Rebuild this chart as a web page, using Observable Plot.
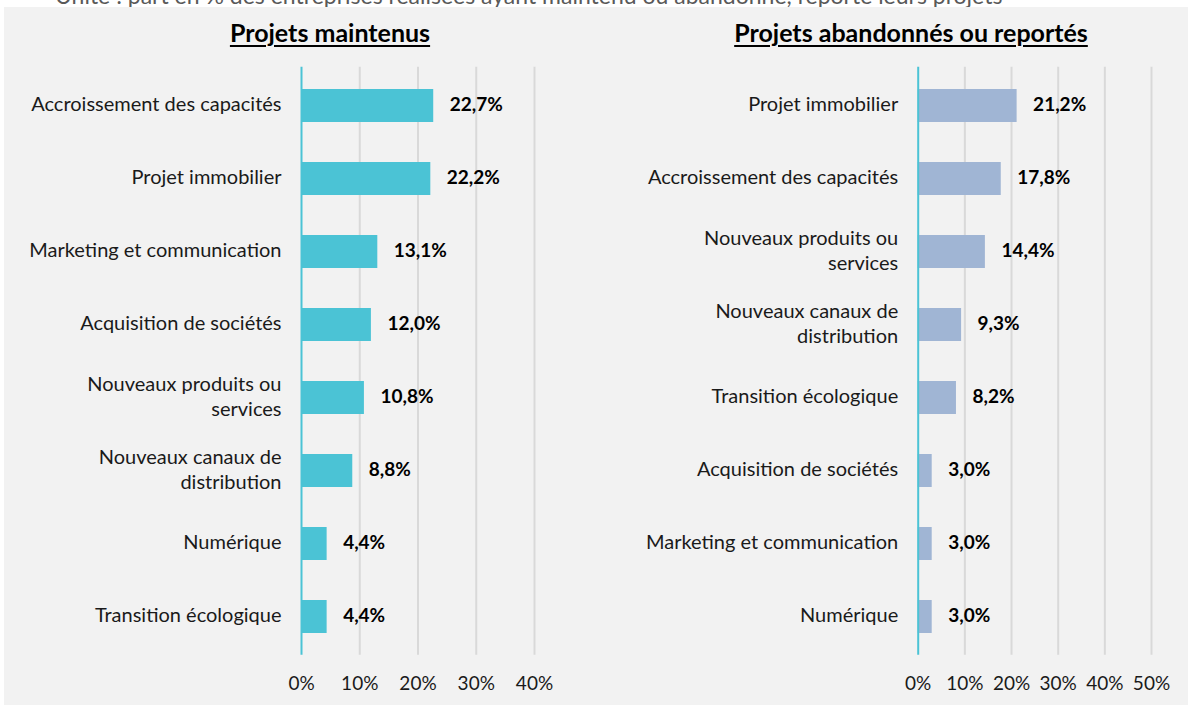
<!DOCTYPE html>
<html>
<head>
<meta charset="utf-8">
<script src="https://cdn.jsdelivr.net/npm/d3@7"></script>
<script src="https://cdn.jsdelivr.net/npm/@observablehq/plot@0.6"></script>
<style>
  html, body { margin: 0; padding: 0; background: #ffffff; width: 1191px; height: 706px; overflow: hidden; font-family: Lato, "Noto Sans", sans-serif; }
  #subtitle { position: absolute; left: 55px; top: -18px; font-size: 23px; line-height: 1.2; color: #595959; white-space: nowrap; z-index: 0; }
  #panel { position: absolute; left: 4px; top: 7px; width: 1184px; height: 698px; background: #f2f2f2; z-index: 1; }
  .title { position: absolute; top: 17px; font-size: 25px; font-weight: bold; text-decoration: underline; text-decoration-thickness: 2px; text-underline-offset: 3px; color: #000; white-space: nowrap; transform: translateX(-50%); z-index: 2; }
  .plot { position: absolute; top: 50px; z-index: 2; }
</style>
</head>
<body>
<div id="subtitle">Unité : part en % des entreprises réalisées ayant maintenu ou abandonné, reporté leurs projets</div>
<div id="panel"></div>
<div class="title" style="left:330px">Projets maintenus</div>
<div class="title" style="left:911px">Projets abandonnés ou reportés</div>
<div id="left" class="plot" style="left:0px"></div>
<div id="right" class="plot" style="left:600px"></div>
<script>
const leftCats = ["Accroissement des capacités", "Projet immobilier", "Marketing et communication", "Acquisition de sociétés", "Nouveaux produits ou\nservices", "Nouveaux canaux de\ndistribution", "Numérique", "Transition écologique"];
const leftVals = [22.7, 22.2, 13.1, 12.0, 10.8, 8.8, 4.4, 4.4];
const leftTicks = [0, 10, 20, 30, 40];

const rightCats = ["Projet immobilier", "Accroissement des capacités", "Nouveaux produits ou\nservices", "Nouveaux canaux de\ndistribution", "Transition écologique", "Acquisition de sociétés", "Marketing et communication", "Numérique"];
const rightVals = [21.2, 17.8, 14.4, 9.3, 8.2, 3.0, 3.0, 3.0];
const rightTicks = [0, 10, 20, 30, 40, 50];

const fmt = v => v.toFixed(1).replace(".", ",") + "%";

function panel(cats, vals, ticks, color, width, mLeft, mRight) {
  const data = cats.map((c, i) => ({c, v: vals[i]}));
  return Plot.plot({
    width, height: 650,
    marginLeft: mLeft, marginRight: mRight, marginTop: 16.75, marginBottom: 45.25,
    style: {background: "transparent", fontFamily: "Lato, 'Noto Sans', sans-serif", fontSize: "19px", color: "#1a1a1a", overflow: "visible"},
    x: {domain: [ticks[0], ticks[ticks.length - 1]]},
    y: {domain: cats, paddingInner: 0.55, paddingOuter: 0.275},
    marks: [
      Plot.ruleX(ticks.slice(1), {stroke: "#d9d9d9", strokeWidth: 2}),
      Plot.barX(data, {x: "v", y: "c", fill: color}),
      Plot.ruleX([0], {stroke: "#4bc3d5", strokeWidth: 2}),
      Plot.text(data, {x: "v", y: "c", text: d => fmt(d.v), dx: 16, dy: -1, textAnchor: "start", fontWeight: "bold", fontSize: 19, fill: "#000"}),
      Plot.axisY({tickSize: 0, tickPadding: 20, fontSize: 20, lineHeight: 1.25, dy: -3, label: null}),
      Plot.axisX({ticks, tickSize: 0, tickPadding: 21, fontSize: 19, tickFormat: d => d + "%", label: null})
    ]
  });
}

document.getElementById("left").append(panel(leftCats, leftVals, leftTicks, "#4bc3d5", 600, 301, 66));
document.getElementById("right").append(panel(rightCats, rightVals, rightTicks, "#a0b5d4", 591, 317.7, 40));
</script>
</body>
</html>
